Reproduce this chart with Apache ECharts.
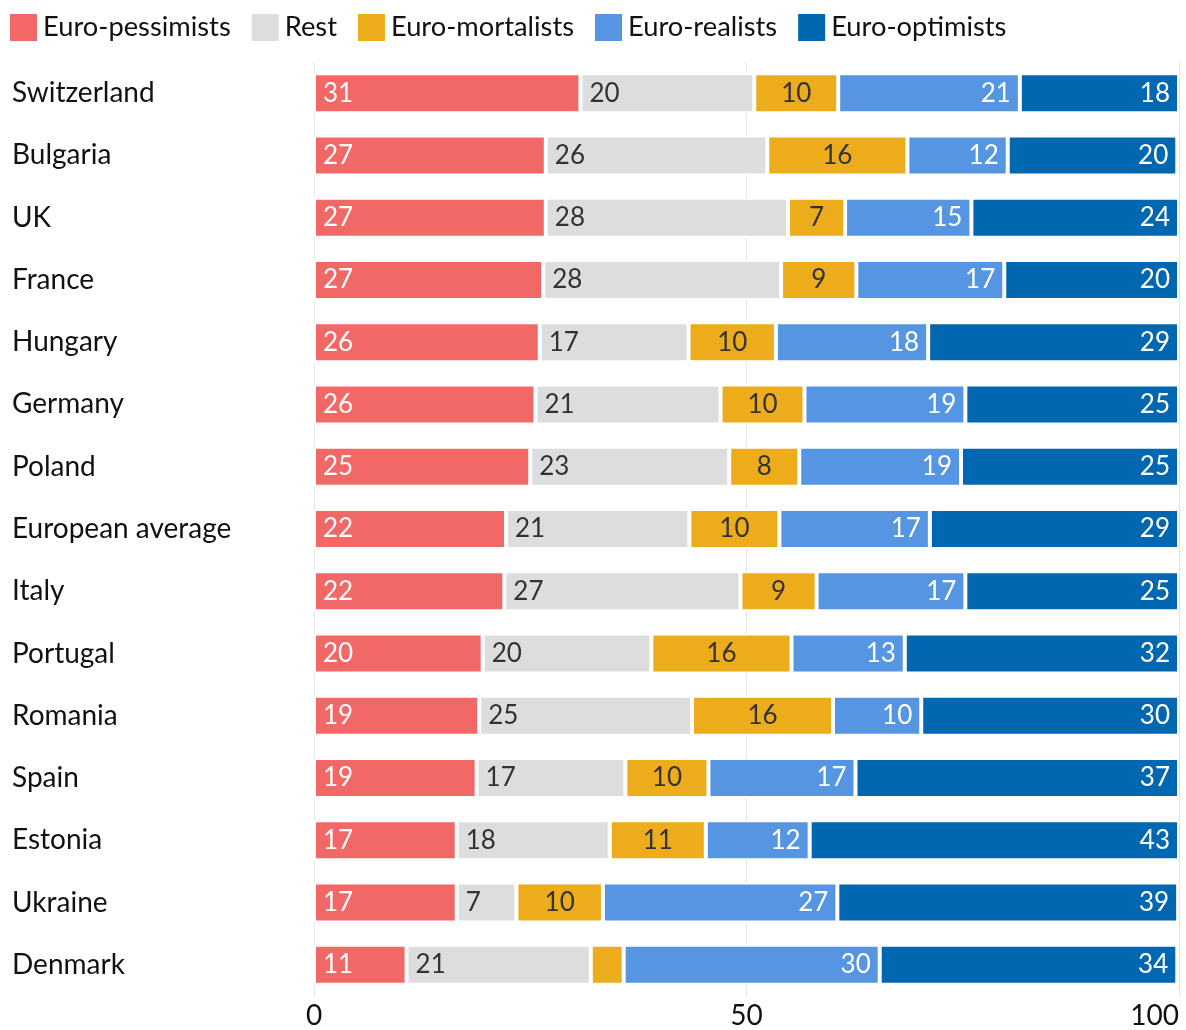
<!DOCTYPE html>
<html>
<head>
<meta charset="utf-8">
<script src="https://cdn.jsdelivr.net/npm/echarts@6/dist/echarts.min.js"></script>
<style>
  html, body { margin: 0; padding: 0; background: #fff; }
  #chart { width: 1186px; height: 1030px; }
</style>
</head>
<body>
<div id="chart"></div>
<script>
// Attitudes towards the EU, share of respondents per group (%)
const categories = ['Switzerland', 'Bulgaria', 'UK', 'France', 'Hungary', 'Germany', 'Poland',
  'European average', 'Italy', 'Portugal', 'Romania', 'Spain', 'Estonia', 'Ukraine', 'Denmark'];

const pessimists = [30.8, 26.8, 26.8, 26.5, 26.1, 25.6, 25.0, 22.2, 22.0, 19.5, 19.1, 18.8, 16.5, 16.5, 10.7];
const rest       = [20.1, 25.6, 28.0, 27.5, 17.2, 21.4, 23.0, 21.2, 27.3, 19.5, 24.6, 17.2, 17.7, 6.9, 21.3];
const mortalists = [9.7, 16.2, 6.6, 8.7, 10.1, 9.7, 8.1, 10.4, 8.8, 16.2, 16.3, 9.6, 11.1, 10.0, 3.8];
const realists   = [21.0, 11.6, 14.6, 17.1, 17.6, 18.6, 18.7, 17.4, 17.2, 13.1, 10.2, 17.0, 12.0, 27.1, 29.6];
const optimists  = [18.4, 19.6, 24.0, 20.2, 29.0, 24.7, 25.2, 28.8, 24.7, 31.7, 29.8, 37.4, 42.7, 39.4, 34.4];

const axisTicks = [0, 50, 100];

const FONT = 'Lato';

function segment(name, data, color, labelColor, position) {
  return {
    name: name,
    type: 'bar',
    stack: 'total',
    data: data,
    barWidth: 40,
    itemStyle: { color: color, borderColor: '#ffffff', borderWidth: 2 },
    label: {
      show: true,
      position: position,
      distance: 9,
      color: labelColor,
      fontFamily: FONT,
      fontSize: 26,
      formatter: p => (p.value >= 5 ? String(Math.round(p.value)) : '')
    },
    emphasis: { disabled: true }
  };
}

const chart = echarts.init(document.getElementById('chart'), null, { renderer: 'canvas' });

chart.setOption({
  animation: false,
  backgroundColor: '#ffffff',
  textStyle: { fontFamily: FONT },
  legend: {
    left: 10,
    top: 14,
    padding: 0,
    itemWidth: 27,
    itemHeight: 27,
    itemGap: 21,
    icon: 'rect',
    itemStyle: { borderWidth: 0 },
    textStyle: { fontFamily: FONT, fontSize: 27.3, color: '#111111', padding: [0, 0, 0, 1] },
    data: ['Euro-pessimists', 'Rest', 'Euro-mortalists', 'Euro-realists', 'Euro-optimists']
  },
  grid: { left: 314, right: 7, top: 62, bottom: 30, containLabel: false },
  xAxis: {
    type: 'value',
    min: axisTicks[0],
    max: axisTicks[axisTicks.length - 1],
    interval: axisTicks[1] - axisTicks[0],
    axisLine: { show: false },
    axisTick: { show: false },
    splitLine: { show: true, lineStyle: { color: '#e4e4e4', width: 1 } },
    axisLabel: {
      fontFamily: FONT,
      fontSize: 28,
      color: '#111111',
      margin: 6,
      alignMaxLabel: 'right'
    }
  },
  yAxis: {
    type: 'category',
    data: categories,
    inverse: true,
    axisLine: { show: false },
    axisTick: { show: false },
    axisLabel: {
      fontFamily: FONT,
      fontSize: 28,
      color: '#111111',
      align: 'left',
      margin: 302
    }
  },
  series: [
    segment('Euro-pessimists', pessimists, '#F26866', '#ffffff', 'insideLeft'),
    segment('Rest', rest, '#DDDDDD', '#333333', 'insideLeft'),
    segment('Euro-mortalists', mortalists, '#ECAC1C', '#333333', 'inside'),
    segment('Euro-realists', realists, '#5595E1', '#ffffff', 'insideRight'),
    segment('Euro-optimists', optimists, '#0067B0', '#ffffff', 'insideRight')
  ]
});
</script>
</body>
</html>
